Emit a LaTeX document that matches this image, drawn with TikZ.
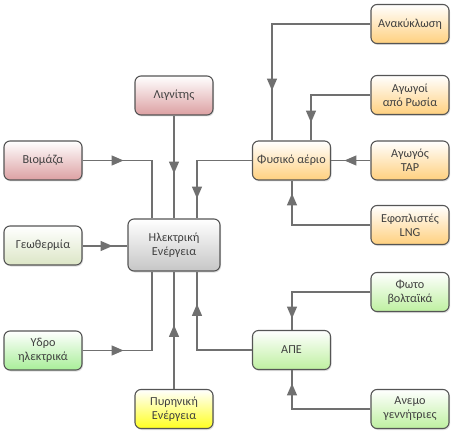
\documentclass[tikz,border=0pt]{standalone}
\usepackage{fontspec}
\setmainfont{Carlito}
\usetikzlibrary{arrows.meta,decorations.markings,shadows}
\definecolor{boxline}{HTML}{555555}
\definecolor{flowline}{HTML}{707070}
\definecolor{txtgray}{HTML}{404040}
\definecolor{redbot}{HTML}{DCA0A2}
\definecolor{olivebot}{HTML}{DCE6C6}
\definecolor{hydrobot}{HTML}{A8EE98}
\definecolor{nucbot}{HTML}{FFFF20}
\definecolor{graybot}{HTML}{C6C6C6}
\definecolor{orangebot}{HTML}{FFD07E}
\definecolor{apebot}{HTML}{BEF0A0}

\begin{document}
\begin{tikzpicture}[%
  x=1pt, y=-1pt,
  src/.style={draw=boxline, line width=1.1pt, rounded corners=6pt,
    minimum width=78pt, minimum height=39pt, align=center,
    font=\fontsize{12.2}{14}\selectfont, text=txtgray,
    top color=white, bottom color=#1,
    drop shadow={opacity=0.25, shadow xshift=1pt, shadow yshift=-1.5pt}},
  flow/.style={draw=flowline, line width=1.4pt, postaction={decorate},
    decoration={markings, mark=at position #1 with
      {\arrow{Triangle[length=12pt,width=10pt]}}}}]
\useasboundingbox (0,0) rectangle (456,436);
% the sources
\node[src=redbot]    (lig)  at (174,95.5)  {Λιγνίτης};
\node[src=redbot]    (bio)  at (43,160.5)  {Βιομάζα};
\node[src=olivebot]  (geo)  at (43,245.5)  {Γεωθερμία};
\node[src=hydrobot]  (hyd)  at (43,350.5)  {Υδρο\\ηλεκτρικά};
\node[src=nucbot]    (nuc)  at (174,409)   {Πυρηνική\\Ενέργεια};
\node[src=graybot, minimum width=92pt, minimum height=52pt]
                     (elec) at (174,245)   {Ηλεκτρική\\Ενέργεια};
% natural gas
\node[src=orangebot] (gas)  at (291.5,160.5) {Φυσικό αέριο};
\node[src=orangebot] (rec)  at (410,24)    {Ανακύκλωση};
\node[src=orangebot] (rus)  at (410,95)    {Αγωγοί\\από Ρωσία};
\node[src=orangebot] (tap)  at (410,160.5) {Αγωγός\\TAP};
\node[src=orangebot] (lng)  at (410,225)   {Εφοπλιστές\\LNG};
% renewables
\node[src=apebot]    (ape)  at (291.5,350) {ΑΠΕ};
\node[src=apebot]    (pv)   at (410,292)   {Φωτο\\βολταϊκά};
\node[src=apebot]    (wind) at (410,409)   {Ανεμο\\γεννήτριες};

\draw[flow=41pt]  (bio.east) -- (152,160.5) -- (elec.north -| 152,0);
\draw[flow=58pt]  (lig) -- (elec);
\draw[flow=93pt]  (gas.west) -- (197,160.5) -- (elec.north -| 197,0);
\draw[flow=30pt]  (geo.east |- 0,246) -- (elec.west |- 0,246);
\draw[flow=41pt]  (hyd.east) -- (152,350.5) -- (elec.south -| 152,0);
\draw[flow=64pt]  (nuc) -- (elec);
\draw[flow=101pt] (ape.west) -- (197,350) -- (elec.south -| 197,0);

\draw[flow=165pt] (rec.west) -- (272,24) -- (gas.north -| 272,0);
\draw[flow=87pt]  (rus.west) -- (311,95) -- (gas.north -| 311,0);
\draw[flow=26pt]  (tap) -- (gas);
\draw[flow=110pt] (lng.west) -- (292,225) -- (gas.south -| 292,0);

\draw[flow=105pt] (pv.west) -- (292,292) -- (ape.north -| 292,0);
\draw[flow=104pt] (wind.west) -- (292,409) -- (ape.south -| 292,0);
\end{tikzpicture}
\end{document}
